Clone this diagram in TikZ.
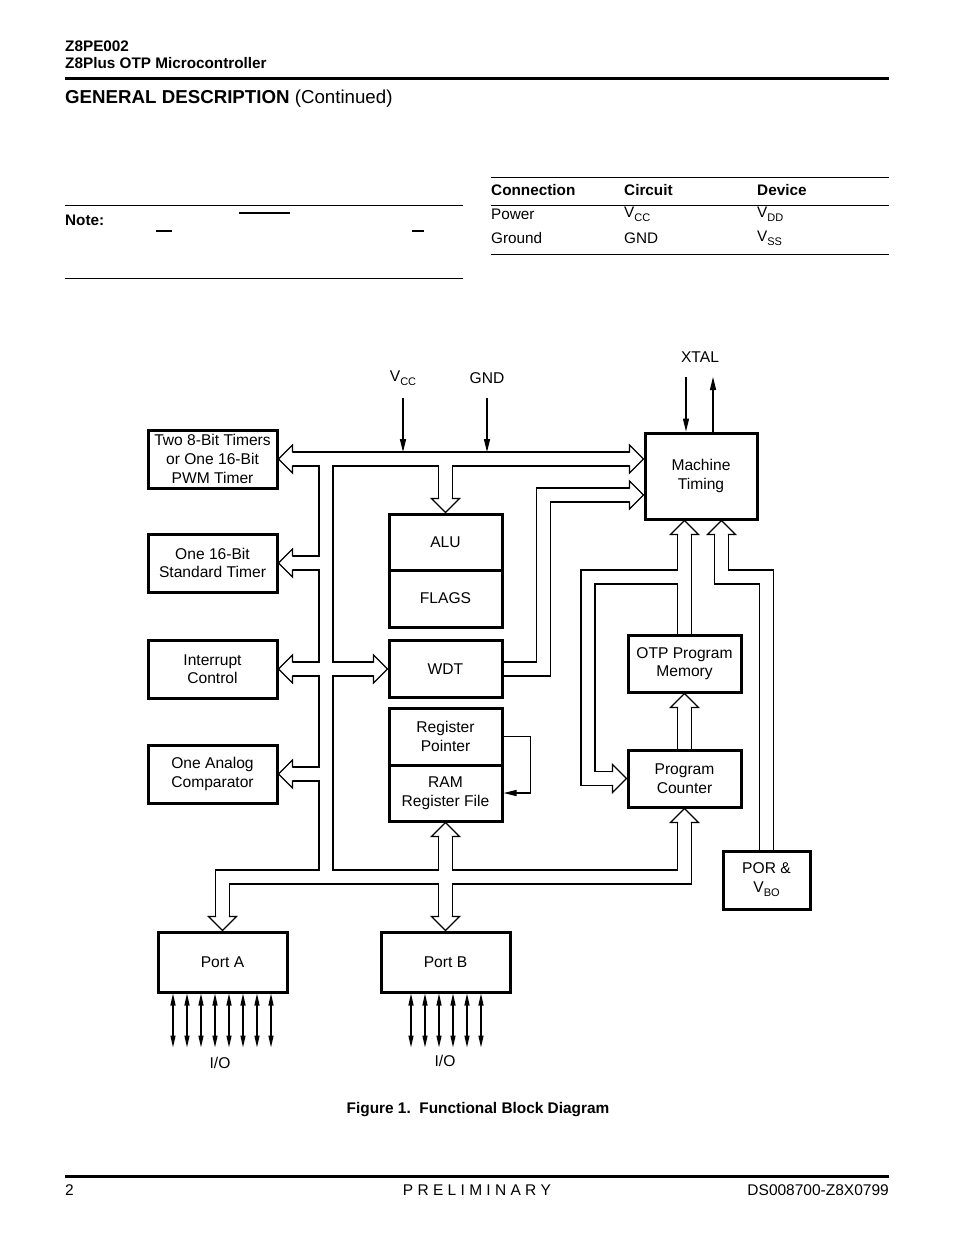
\documentclass[tikz,border=0pt]{standalone}
\usepackage{fontspec}
\setmainfont{Liberation Sans}
\usetikzlibrary{calc,arrows.meta}
\pgfdeclarelayer{bg}
\pgfsetlayers{bg,main}
\newcommand\mysub[1]{\raisebox{-0.28em}{\fontsize{11}{11}\selectfont #1}}
\newcommand\dfont{\fontsize{15.6}{18.6}\selectfont}
\newcommand\hfont{\fontsize{15.3}{17}\selectfont}
\tikzset{
  blk/.style={draw, line width=3pt, fill=white, inner sep=0pt, align=center, font=\dfont},
  busblack/.style={line width=15.3pt, draw=black, line join=miter},
  buswhite/.style={line width=12.7pt, draw=white, line join=miter},
  busedge/.style={line width=1.3pt, line join=miter},
  thinarr/.style={line width=1.3pt, -{Triangle[length=13pt,width=6pt]}},
  ioarr/.style={line width=1.3pt, {Triangle[length=12pt,width=5pt]}-{Triangle[length=12pt,width=5pt]}},
  lbl/.style={font=\dfont, inner sep=0pt},
  txt/.style={font=\hfont, inner sep=0pt, anchor=west},
}
\newcommand\hhead[2]{%
  \begin{scope}[shift={(#1)},rotate=#2]
    \fill[white] (0.3,0) -- (-14,14.3) -- (-14,-14.3) -- cycle;
    \draw[busedge] (-14,6.35) -- (-14,14) -- (0,0) -- (-14,-14) -- (-14,-6.35);
  \end{scope}}
\newcommand\buspaths[1]{%
  \draw[#1] ($(two8.east)+(13,0)$) -- ($(mtA)+(-13,0)$);
  \draw[#1] (colL |- two8.east) -- (colL |- rowB);
  \draw[#1] ($(one16.east)+(13,0)$) -- (colL |- one16.east);
  \draw[#1] ($(intr.east)+(13,0)$) -- ($(wdt.west)+(-13,0)$);
  \draw[#1] ($(anlg.east)+(13,0)$) -- (colL |- anlg.east);
  \draw[#1] (alu.north |- two8.east) -- ($(alu.north)+(0,-13)$);
  \draw[#1] ($(porta.north)+(0,-13)$) -- (porta.north |- rowB) -- (pc.south |- rowB) -- ($(pc.south)+(0,13)$);
  \draw[#1] ($(ram.south)+(0,13)$) -- ($(portb.north)+(0,-13)$);
  \draw[#1] (wdt.center) -- (colW |- wdt.east) -- (colW |- mtB) -- ($(mtB)+(-13,0)$);
  \draw[#1] (otp.center) -- ($(mtC)+(0,13)$);
  \draw[#1] (otp.north |- rowM) -- (colF |- rowM) -- (colF |- pc.west) -- ($(pc.west)+(-13,0)$);
  \draw[#1] (por.center) -- (por.north |- rowM) -- (colX |- rowM) -- ($(mtD)+(0,13)$);
  \draw[#1] (pc.center) -- ($(otp.south)+(0,13)$);
}
\begin{document}
\begin{tikzpicture}[x=1pt,y=-1pt]
\useasboundingbox (0,0) rectangle (954,1235);

% ---------- header ----------
\node[txt, font=\hfont\bfseries] (h1) at (65,46) {Z8PE002};
\node[txt, font=\hfont\bfseries] (h2) at (65,63) {Z8Plus OTP Microcontroller};
\draw[line width=3pt] (65,78) -- (889,78);
\node[txt, font=\fontsize{18.7}{20}\selectfont] (gd) at (65,99) {\textbf{GENERAL DESCRIPTION} (Continued)};

% ---------- note ----------
\draw[line width=1pt] (65,205) -- (463,205);
\node[txt, font=\hfont\bfseries] (note) at (65,220) {Note:};
\draw[line width=1.3pt] (239,213) -- (290,213);
\draw[line width=1.3pt] (156,231) -- (172,231);
\draw[line width=1.3pt] (412,231) -- (424,231);
\draw[line width=1pt] (65,278) -- (463,278);

% ---------- table ----------
\draw[line width=1pt] (491,177) -- (889,177);
\draw[line width=1pt] (491,205) -- (889,205);
\draw[line width=1pt] (491,254) -- (889,254);
\node[txt, font=\hfont\bfseries] (t1) at (491,190) {Connection};
\node[txt, font=\hfont\bfseries] (t2) at (624,190) {Circuit};
\node[txt, font=\hfont\bfseries] (t3) at (757,190) {Device};
\node[txt] (r1) at (491,214) {Power};
\node[txt] (r2) at (624,214) {V\mysub{CC}};
\node[txt] (r3) at (757,214) {V\mysub{DD}};
\node[txt] (s1) at (491,238) {Ground};
\node[txt] (s2) at (624,238) {GND};
\node[txt] (s3) at (757,238) {V\mysub{SS}};

% ---------- blocks ----------
\node[blk, minimum width=129pt, minimum height=58pt] (two8) at (212.5,459) {Two 8-Bit Timers\\or One 16-Bit\\PWM Timer};
\node[blk, minimum width=129pt, minimum height=58pt] (one16) at (212.5,563) {One 16-Bit\\Standard Timer};
\node[blk, minimum width=129pt, minimum height=58pt] (intr) at (212.5,669) {Interrupt\\Control};
\node[blk, minimum width=129pt, minimum height=58pt] (anlg) at (212.5,774) {One Analog\\Comparator};
\node[blk, minimum width=113pt, minimum height=56pt] (alu) at (445.5,542) {ALU};
\node[blk, minimum width=113pt, minimum height=57pt] (flags) at (445.5,598.5) {FLAGS};
\node[blk, minimum width=113pt, minimum height=57pt] (wdt) at (445.5,669) {WDT};
\node[blk, minimum width=113pt, minimum height=57pt] (rp) at (445.5,736.5) {Register\\Pointer};
\node[blk, minimum width=113pt, minimum height=56pt] (ram) at (445.5,793) {RAM\\Register File};
\node[blk, minimum width=112pt, minimum height=86pt] (mt) at (701,476) {Machine\\Timing};
\node[blk, minimum width=113pt, minimum height=57pt] (otp) at (684.5,663.5) {OTP Program\\Memory};
\node[blk, minimum width=113pt, minimum height=57pt] (pc) at (684.5,778.5) {Program\\Counter};
\node[blk, minimum width=87pt, minimum height=58pt] (por) at (766.5,880) {POR \&\\V\mysub{BO}};
\node[blk, minimum width=129pt, minimum height=60pt] (porta) at (222.5,962) {Port A};
\node[blk, minimum width=129pt, minimum height=60pt] (portb) at (445.5,962) {Port B};

% ---------- labels ----------
\node[lbl] (vcc) at (403,378) {V\mysub{CC}};
\node[lbl] (gnd) at (487,378) {GND};
\node[lbl] (xtal) at (700,357) {XTAL};
\node[lbl] (ioa) at (220,1063) {I/O};
\node[lbl] (iob) at (445,1061) {I/O};

% ---------- bus helper coordinates ----------
\coordinate (colL) at (326,0);
\coordinate (rowB) at (0,877);
\coordinate (colW) at (543.5,0);
\coordinate (rowM) at (0,577);
\coordinate (colF) at (588,0);
\coordinate (colX) at (721.5,0);
\coordinate (mtA) at (mt.west |- two8.east);
\coordinate (mtB) at ($(mt.west)+(0,19)$);
\coordinate (mtC) at (otp.north |- mt.south);
\coordinate (mtD) at (colX |- mt.south);

\begin{pgfonlayer}{bg}
  \fill[white] (0,0) rectangle (954,1235);
  \buspaths{busblack}
  \buspaths{buswhite}
  \hhead{two8.east}{180}
  \hhead{one16.east}{180}
  \hhead{intr.east}{180}
  \hhead{anlg.east}{180}
  \hhead{mtA}{0}
  \hhead{wdt.west}{0}
  \hhead{alu.north}{-90}
  \hhead{porta.north}{-90}
  \hhead{portb.north}{-90}
  \hhead{ram.south}{90}
  \hhead{pc.south}{90}
  \hhead{mtB}{0}
  \hhead{mtC}{90}
  \hhead{mtD}{90}
  \hhead{pc.west}{0}
  \hhead{otp.south}{90}
\end{pgfonlayer}

% ---------- thin arrows ----------
\coordinate (vcc0) at (403,398);
\coordinate (gnd0) at (487,398);
\draw[thinarr] (vcc0) -- ($(vcc0 |- two8.east)+(0,-7)$);
\draw[thinarr] (gnd0) -- ($(gnd0 |- two8.east)+(0,-7)$);
\coordinate (xin) at (686,377);
\coordinate (xout) at (713,377);
\draw[thinarr] (xin) -- (xin |- mt.north);
\draw[thinarr] (xout |- mt.north) -- (xout);
\draw[thinarr] (rp.east) -- ++(27,0) |- (ram.east);
\foreach \i in {0,...,7} \draw[ioarr] ($(porta.south west)+(16.5+14*\i,0)$) -- ++(0,54);
\foreach \i in {0,...,5} \draw[ioarr] ($(portb.south west)+(31.5+14*\i,0)$) -- ++(0,54);

% ---------- caption and footer ----------
\node[font=\fontsize{15.4}{17}\selectfont\bfseries, inner sep=0pt] (cap) at (478,1110) {Figure 1.\ \ Functional Block Diagram};
\draw[line width=3pt] (65,1176) -- (889,1176);
\node[txt, font=\fontsize{15.5}{17}\selectfont] (f1) at (65,1190) {2};
\node[font=\fontsize{15.5}{17}\selectfont, inner sep=0pt] (f2) at (477,1190) {P R E L I M I N A R Y};
\node[font=\fontsize{15.5}{17}\selectfont, inner sep=0pt, anchor=east] (f3) at (889,1190) {DS008700-Z8X0799};
\end{tikzpicture}
\end{document}
